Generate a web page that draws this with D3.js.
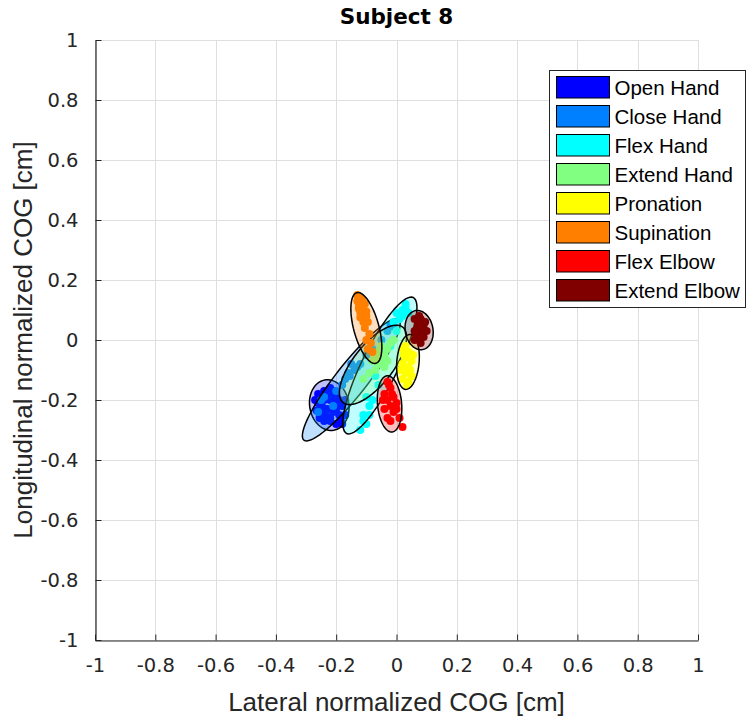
<!DOCTYPE html>
<html>
<head>
<meta charset="utf-8">
<script src="https://cdn.jsdelivr.net/npm/d3@7"></script>
<style>
  body { margin: 0; background: #fff; }
  svg { display: block; }
</style>
</head>
<body>
<div id="chart"></div>
<script>
// categories (jet colormap order)
var categories = ["Open Hand", "Close Hand", "Flex Hand", "Extend Hand",
                  "Pronation", "Supination", "Flex Elbow", "Extend Elbow"];
var colors = ["#0000ff", "#0080ff", "#00ffff", "#80ff80",
              "#ffff00", "#ff8000", "#ff0000", "#800000"];

// confidence ellipses: centre, semi axes, angle (deg, from x axis)
var ellCx    = [-0.223, -0.150, -0.055, -0.078,  0.038, -0.100, -0.023, 0.075];
var ellCy    = [-0.217, -0.133, -0.085, -0.083, -0.073,  0.040, -0.213, 0.033];
var ellA     = [ 0.085,  0.255,  0.252,  0.160,  0.092,  0.122,  0.094, 0.066];
var ellB     = [ 0.065,  0.052,  0.060,  0.066,  0.037,  0.042,  0.040, 0.046];
var ellAngle = [ 100,    52,     64,     52,     85,     105,    95,     100];

// COG samples per category [x, y]
var openHand = [[-0.26,-0.18],[-0.24,-0.17],[-0.22,-0.16],[-0.20,-0.18],[-0.19,-0.20],
  [-0.26,-0.21],[-0.24,-0.20],[-0.22,-0.20],[-0.20,-0.21],[-0.18,-0.22],[-0.25,-0.24],
  [-0.23,-0.23],[-0.21,-0.24],[-0.19,-0.25],[-0.17,-0.25],[-0.24,-0.27],[-0.22,-0.27],
  [-0.20,-0.28],[-0.18,-0.28],[-0.27,-0.20],[-0.17,-0.20],[-0.22,-0.26],[-0.20,-0.23],
  [-0.245,-0.225],[-0.215,-0.185],[-0.235,-0.25],[-0.25,-0.19],[-0.23,-0.18],
  [-0.21,-0.17],[-0.255,-0.26],[-0.185,-0.265],[-0.265,-0.235],[-0.21,-0.205]];
var closeHand = [[-0.25,-0.20],[-0.24,-0.19],[-0.26,-0.24],[-0.21,-0.22],[-0.20,-0.17],
  [-0.17,-0.13],[-0.16,-0.11],[-0.14,-0.10],[-0.15,-0.08],[-0.12,-0.08],[-0.10,-0.05],
  [-0.08,-0.03],[-0.05,0.00],[-0.03,0.03],[-0.02,0.05],[-0.01,0.045],[-0.18,-0.15],
  [-0.155,-0.12],[-0.13,-0.09]];
var flexHand = [[-0.12,-0.30],[-0.10,-0.28],[-0.11,-0.25],[-0.09,-0.22],[-0.08,-0.20],
  [-0.10,-0.19],[-0.06,-0.15],[-0.07,-0.12],[-0.04,-0.08],[-0.05,-0.05],[-0.02,-0.02],
  [0.00,0.03],[0.01,0.07],[0.02,0.10],[0.03,0.11],[0.04,0.09],[-0.01,0.06],[0.02,0.08],
  [-0.11,-0.27],[-0.09,-0.25],[0.00,0.09],[0.03,0.12]];
var extendHand = [[-0.07,-0.10],[-0.06,-0.08],[-0.05,-0.06],[-0.04,-0.05],[-0.03,-0.03],
  [-0.05,-0.02],[-0.02,-0.01],[-0.06,-0.04],[-0.08,-0.07],[-0.04,-0.09],[-0.03,-0.07],
  [-0.01,0.00],[-0.09,-0.11],[-0.11,-0.13],[-0.07,-0.06],[-0.05,-0.08]];
var pronation = [[0.02,-0.03],[0.04,-0.04],[0.03,-0.06],[0.05,-0.07],[0.02,-0.08],
  [0.04,-0.09],[0.03,-0.11],[0.05,-0.12],[0.02,-0.13],[0.035,-0.15],[0.045,-0.10],
  [0.015,-0.10],[0.055,-0.05],[0.03,-0.02],[0.04,-0.14],[0.025,-0.05]];
var supination = [[-0.13,0.15],[-0.12,0.14],[-0.125,0.12],[-0.11,0.11],[-0.12,0.09],
  [-0.10,0.08],[-0.11,0.06],[-0.105,0.04],[-0.09,0.02],[-0.10,0.00],[-0.085,-0.01],
  [-0.095,-0.03],[-0.08,-0.04],[-0.115,0.10],[-0.13,0.13],[-0.115,0.135],
  [-0.105,0.12],[-0.125,0.105],[-0.1,0.095],[-0.12,0.075],[-0.095,0.06]];
var flexElbow = [[-0.03,-0.14],[-0.02,-0.16],[-0.04,-0.18],[-0.01,-0.19],[-0.03,-0.20],
  [-0.02,-0.22],[-0.04,-0.23],[0.00,-0.21],[-0.01,-0.24],[-0.03,-0.26],[-0.02,-0.27],
  [0.01,-0.26],[0.02,-0.29],[-0.015,-0.18],[-0.045,-0.20],[-0.025,-0.15],[0.0,-0.23]];
var extendElbow = [[0.06,0.07],[0.08,0.07],[0.07,0.05],[0.09,0.05],[0.06,0.03],
  [0.08,0.03],[0.10,0.03],[0.07,0.01],[0.09,0.01],[0.08,-0.01],[0.06,0.00],
  [0.075,0.08],[0.095,0.06],[0.065,0.015]];
var points = [openHand, closeHand, flexHand, extendHand,
              pronation, supination, flexElbow, extendElbow];

var tickValues = [-1, -0.8, -0.6, -0.4, -0.2, 0, 0.2, 0.4, 0.6, 0.8, 1];
var tickLabels = ["-1", "-0.8", "-0.6", "-0.4", "-0.2", "0", "0.2", "0.4", "0.6", "0.8", "1"];

var WIDTH = 747, HEIGHT = 722;
var margin = {left: 95, right: 49, top: 40, bottom: 82};
var AXIS_COLOR = "#262626";

var svg = d3.select("#chart").append("svg")
    .attr("width", WIDTH)
    .attr("height", HEIGHT);

var x = d3.scaleLinear().domain([-1, 1]).range([margin.left, WIDTH - margin.right]);
var y = d3.scaleLinear().domain([-1, 1]).range([HEIGHT - margin.bottom, margin.top]);

// grid
var grid = svg.append("g").attr("class", "grid");
grid.selectAll("line.gx").data(tickValues).enter().append("line")
    .attr("class", "gx")
    .attr("x1", function(d) { return Math.round(x(d)) + 0.5; })
    .attr("x2", function(d) { return Math.round(x(d)) + 0.5; })
    .attr("y1", y(-1)).attr("y2", y(1))
    .attr("stroke", "#dfdfdf").attr("stroke-width", 1);
grid.selectAll("line.gy").data(tickValues).enter().append("line")
    .attr("class", "gy")
    .attr("y1", function(d) { return Math.round(y(d)) + 0.5; })
    .attr("y2", function(d) { return Math.round(y(d)) + 0.5; })
    .attr("x1", x(-1)).attr("x2", x(1))
    .attr("stroke", "#dfdfdf").attr("stroke-width", 1);

// axes
var xAxis = d3.axisBottom(x).tickValues(tickValues)
    .tickFormat(function(d, i) { return tickLabels[i]; })
    .tickSizeInner(-6).tickSizeOuter(0).tickPadding(18);
var yAxis = d3.axisLeft(y).tickValues(tickValues)
    .tickFormat(function(d, i) { return tickLabels[i]; })
    .tickSizeInner(-6).tickSizeOuter(0).tickPadding(17);

var gx = svg.append("g")
    .attr("transform", "translate(0," + (Math.round(y(-1)) + 0.5) + ")")
    .call(xAxis);
var gy = svg.append("g")
    .attr("transform", "translate(" + (Math.round(x(-1)) + 0.5) + ",0)")
    .call(yAxis);

[gx, gy].forEach(function(g) {
    g.select(".domain").attr("stroke", AXIS_COLOR).attr("stroke-width", 1.2);
    g.selectAll(".tick line").attr("stroke", AXIS_COLOR).attr("stroke-width", 1);
    g.selectAll(".tick text")
        .attr("fill", AXIS_COLOR)
        .attr("font-family", "DejaVu Sans")
        .attr("font-size", 19.5);
});

// ellipses + samples
function ellipsePoints(i) {
    var th = ellAngle[i] * Math.PI / 180;
    var pts = [];
    for (var k = 0; k < 72; k++) {
        var t = k / 72 * 2 * Math.PI;
        var ex = ellA[i] * Math.cos(t), ey = ellB[i] * Math.sin(t);
        pts.push([ellCx[i] + ex * Math.cos(th) - ey * Math.sin(th),
                  ellCy[i] + ex * Math.sin(th) + ey * Math.cos(th)]);
    }
    return pts;
}

var line = d3.line()
    .x(function(d) { return x(d[0]); })
    .y(function(d) { return y(d[1]); })
    .curve(d3.curveLinearClosed);

var plot = svg.append("g").attr("class", "plot");
categories.forEach(function(c, i) {
    plot.append("g").selectAll("circle")
        .data(points[i]).enter().append("circle")
        .attr("cx", function(d) { return x(d[0]); })
        .attr("cy", function(d) { return y(d[1]); })
        .attr("r", 4)
        .attr("fill", colors[i]);
    plot.append("path")
        .attr("d", line(ellipsePoints(i)))
        .attr("fill", colors[i])
        .attr("fill-opacity", 0.25)
        .attr("stroke", "#000")
        .attr("stroke-width", 1.5);
});

// title & labels
svg.append("text")
    .attr("x", (x(-1) + x(1)) / 2).attr("y", 24)
    .attr("text-anchor", "middle")
    .attr("font-family", "DejaVu Sans").attr("font-weight", "bold")
    .attr("font-size", 21.5).attr("fill", "#000")
    .text("Subject 8");

svg.append("text")
    .attr("x", (x(-1) + x(1)) / 2).attr("y", 711)
    .attr("text-anchor", "middle")
    .attr("font-family", "Liberation Sans")
    .attr("font-size", 26).attr("fill", AXIS_COLOR)
    .text("Lateral normalized COG [cm]");

svg.append("text")
    .attr("transform", "translate(32," + (y(-1) + y(1)) / 2 + ") rotate(-90)")
    .attr("text-anchor", "middle")
    .attr("font-family", "Liberation Sans")
    .attr("font-size", 26).attr("fill", AXIS_COLOR)
    .text("Longitudinal normalized COG [cm]");

// legend
var legend = svg.append("g").attr("transform", "translate(549.5,70.5)");
legend.append("rect")
    .attr("width", 196).attr("height", 237)
    .attr("fill", "#fff").attr("stroke", AXIS_COLOR).attr("stroke-width", 1);
var item = legend.selectAll("g.item").data(categories).enter().append("g")
    .attr("class", "item")
    .attr("transform", function(d, i) { return "translate(7," + (6 + i * 29) + ")"; });
item.append("rect")
    .attr("width", 53).attr("height", 21.5)
    .attr("fill", function(d, i) { return colors[i]; })
    .attr("stroke", "#000").attr("stroke-width", 1);
item.append("text")
    .attr("x", 58).attr("y", 18)
    .attr("font-family", "Liberation Sans")
    .attr("font-size", 20.5).attr("fill", "#000")
    .text(function(d) { return d; });
</script>
</body>
</html>
